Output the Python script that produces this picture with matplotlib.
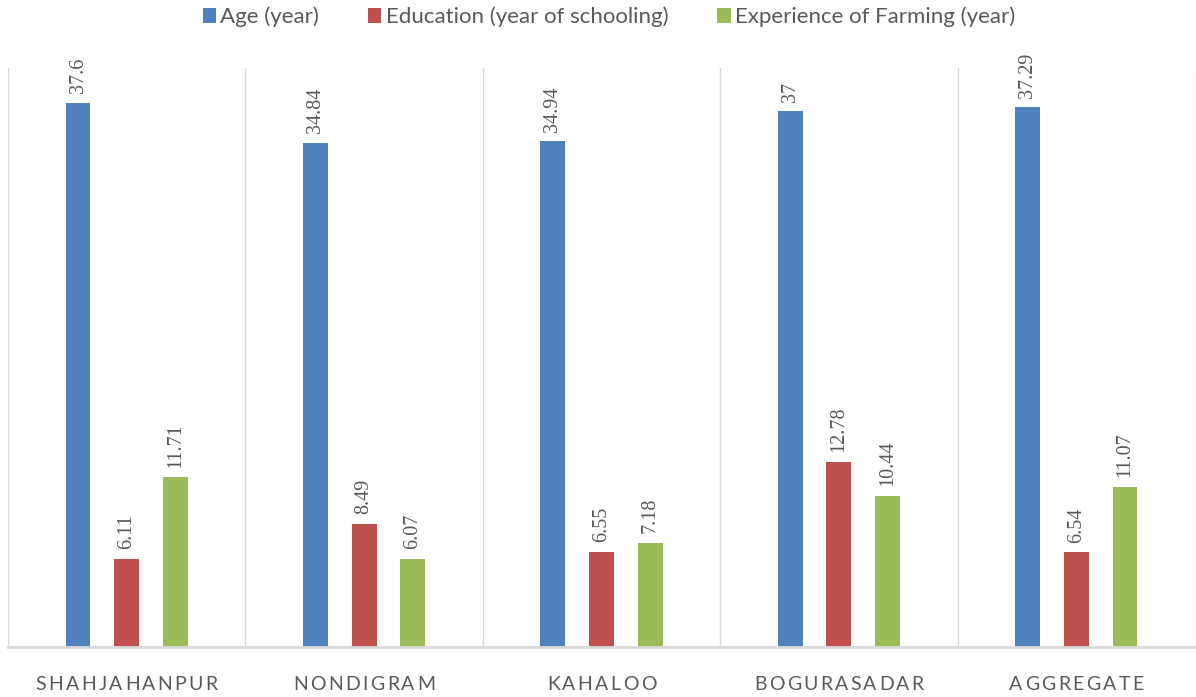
import matplotlib
matplotlib.use("Agg")
import matplotlib.pyplot as plt
import numpy as np

# Data
categories = ["SHAHJAHANPUR", "NONDIGRAM", "KAHALOO", "BOGURASADAR", "AGGREGATE"]
series_names = ["Age (year)", "Education (year of schooling)", "Experience of Farming (year)"]
age = [37.6, 34.84, 34.94, 37.0, 37.29]
education = [6.11, 8.49, 6.55, 12.78, 6.54]
experience = [11.71, 6.07, 7.18, 10.44, 11.07]
value_labels = [["37.6", "34.84", "34.94", "37", "37.29"],
                ["6.11", "8.49", "6.55", "12.78", "6.54"],
                ["11.71", "6.07", "7.18", "10.44", "11.07"]]

colors = ["#4F81BD", "#C0504D", "#9BBB59"]
text_gray = "#595959"
grid_gray = "#D9D9D9"

W, H = 1196, 697
fig = plt.figure(figsize=(W / 100, H / 100), dpi=100)
ax_left, ax_right, ax_bottom, ax_top = 8, 1195, 647, 68
ax = fig.add_axes([ax_left / W, 1 - ax_bottom / H,
                   (ax_right - ax_left) / W, (ax_bottom - ax_top) / H])

x = np.arange(len(categories))
offsets = [-0.205, 0.0, 0.205]
bar_w = 0.105
handles = []
for vals, off, col, name, labs in zip([age, education, experience], offsets, colors,
                                      series_names, value_labels):
    bars = ax.bar(x + off, vals, width=bar_w, color=col, label=name, zorder=3)
    handles.append(bars)
    for b, lab in zip(bars, labs):
        ax.annotate(lab, (b.get_x() + b.get_width() / 2, b.get_height()),
                    xytext=(0, 7), textcoords="offset points",
                    ha="center", va="bottom", rotation=90,
                    fontsize=14.5, color=text_gray, family="Liberation Serif")

ax.set_xlim(-0.5, len(categories) - 0.5)
ax.set_ylim(0, 40)
for spine in ax.spines.values():
    spine.set_visible(False)
ax.set_yticks([])
ax.set_xticks([])
# category separators
for b in np.arange(-0.5, len(categories), 1.0):
    ax.axvline(b, color=grid_gray, lw=1, zorder=1)
ax.axhline(0, color=grid_gray, lw=2, zorder=4, clip_on=False)

# spaced-out category labels
fig.canvas.draw()
renderer = fig.canvas.get_renderer()
label_font = dict(family="Lato", fontsize=14, color=text_gray)

def letter_widths(word):
    ws = []
    for ch in word:
        t = fig.text(0, 0, ch, **label_font)
        ws.append(t.get_window_extent(renderer).width)
        t.remove()
    return ws

ref_w = letter_widths(categories[0])
tracking = (182 - sum(ref_w)) / (len(categories[0]) - 1)
label_y = 684
for i, cat in enumerate(categories):
    ws = letter_widths(cat)
    total = sum(ws) + tracking * (len(cat) - 1)
    cx = ax_left + (ax_right - ax_left) * (i + 0.5) / len(categories)
    px = cx - total / 2
    for ch, w in zip(cat, ws):
        fig.text(px / W, 1 - label_y / H, ch, ha="left", va="center", **label_font)
        px += w + tracking

leg = fig.legend(handles=handles, loc="center", bbox_to_anchor=(609 / W, 1 - 17 / H),
                 ncol=3, frameon=False, handlelength=0.6, handleheight=0.6,
                 handletextpad=0.2, columnspacing=2.2,
                 prop=dict(family="Lato", size=16))
for t in leg.get_texts():
    t.set_color(text_gray)

fig.savefig("out.png", dpi=100)
